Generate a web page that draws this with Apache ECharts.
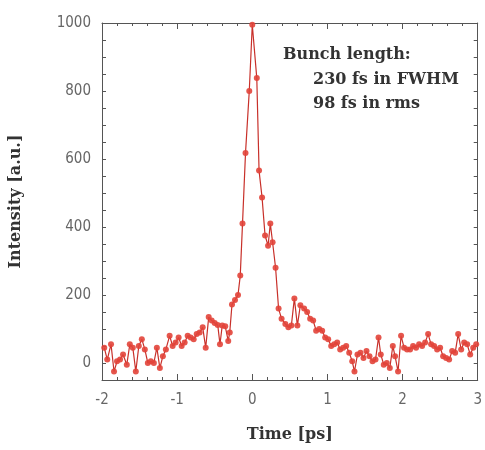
<!DOCTYPE html>
<html>
<head>
<meta charset="utf-8">
<script src="https://cdn.jsdelivr.net/npm/echarts@6/dist/echarts.min.js"></script>
<style>html,body{margin:0;padding:0;background:#fff;}#c{width:485px;height:450px;}</style>
</head>
<body>
<div id="c"></div>
<script>
const timePs = [-1.97,-1.93,-1.88,-1.84,-1.80,-1.76,-1.72,-1.67,-1.63,-1.59,-1.55,-1.51,-1.47,-1.43,-1.39,-1.35,-1.31,-1.27,-1.23,-1.19,-1.15,-1.10,-1.06,-1.02,-0.98,-0.94,-0.90,-0.86,-0.82,-0.78,-0.74,-0.70,-0.66,-0.62,-0.58,-0.54,-0.50,-0.46,-0.43,-0.40,-0.36,-0.32,-0.30,-0.27,-0.23,-0.19,-0.16,-0.13,-0.09,-0.04,0.00,0.06,0.09,0.13,0.17,0.21,0.24,0.27,0.31,0.35,0.39,0.44,0.48,0.52,0.56,0.60,0.64,0.69,0.73,0.77,0.81,0.85,0.89,0.93,0.97,1.01,1.05,1.09,1.13,1.17,1.21,1.25,1.29,1.33,1.36,1.40,1.44,1.48,1.52,1.56,1.60,1.64,1.68,1.71,1.75,1.79,1.83,1.87,1.90,1.94,1.98,2.02,2.06,2.10,2.14,2.18,2.22,2.26,2.30,2.34,2.38,2.42,2.46,2.50,2.54,2.58,2.62,2.66,2.70,2.74,2.78,2.82,2.86,2.90,2.94,2.98];
const intensity = [45,10,55,-25,5,10,25,-5,55,45,-25,50,70,40,0,5,0,45,-15,20,40,80,50,60,75,50,60,80,75,70,85,90,105,45,135,125,118,112,55,110,108,65,90,172,185,200,257,410,618,800,995,838,566,487,375,345,410,355,280,160,130,115,105,110,190,110,170,160,150,130,125,95,100,95,75,70,50,55,60,40,45,50,30,5,-25,25,30,15,35,20,5,10,75,25,-5,0,-15,50,20,-25,80,45,40,40,50,45,55,50,60,85,55,50,40,45,20,15,10,35,30,85,40,60,55,25,45,55];
const xTicks = [-2,-1,0,1,2,3];
const yTickLabels = [0,200,400,600,800,1000];
const annotation = ['Bunch length:','230 fs in FWHM','98 fs in rms'];

const chart = echarts.init(document.getElementById('c'));
const axisCol = '#555';
const labelFont = {color:'#666', fontSize:15, fontFamily:'DejaVu Sans Condensed, Liberation Sans Narrow, Liberation Sans, sans-serif'};
const nameFont = {color:'#333', fontSize:16, fontWeight:'bold', fontFamily:'DejaVu Serif, serif'};
const annFont = 'bold 16px "DejaVu Serif", serif';
const pts = timePs.map((t,i)=>[t,intensity[i]]);

chart.setOption({
  animation:false,
  backgroundColor:'#fff',
  grid:{left:102,right:5,top:23,bottom:70},
  xAxis:[{
    type:'value', min:xTicks[0], max:xTicks[xTicks.length-1], interval:1,
    name:'Time [ps]', nameLocation:'middle', nameGap:47, nameTextStyle:nameFont,
    axisLine:{onZero:false,lineStyle:{color:axisCol,width:1}},
    axisTick:{inside:true,length:6,lineStyle:{color:axisCol}},
    minorTick:{show:true,splitNumber:5,length:3,lineStyle:{color:axisCol}},
    axisLabel:Object.assign({margin:13},labelFont),
    splitLine:{show:false}
  },{
    type:'value', position:'top', min:xTicks[0], max:xTicks[xTicks.length-1], interval:1,
    axisLine:{onZero:false,lineStyle:{color:axisCol,width:1}},
    axisTick:{inside:true,length:6,lineStyle:{color:axisCol}},
    minorTick:{show:true,splitNumber:5,length:3,lineStyle:{color:axisCol}},
    axisLabel:{show:false}, splitLine:{show:false}
  }],
  yAxis:[{
    type:'value', min:-50, max:1000, interval:50,
    name:'Intensity [a.u.]', nameLocation:'middle', nameGap:78, nameRotate:90, nameTextStyle:nameFont,
    axisLine:{show:true,onZero:false,lineStyle:{color:axisCol,width:1}},
    axisTick:{show:true,inside:true,length:4,lineStyle:{color:axisCol}},
    axisLabel:Object.assign({margin:11, formatter:v=>yTickLabels.indexOf(v)>=0?String(v):''},labelFont),
    splitLine:{show:false}
  },{
    type:'value', position:'right', min:-50, max:1000, interval:50,
    axisLine:{show:true,onZero:false,lineStyle:{color:axisCol,width:1}},
    axisTick:{show:true,inside:true,length:4,lineStyle:{color:axisCol}},
    axisLabel:{show:false}, splitLine:{show:false}
  }],
  series:[{
    type:'line', data:pts, xAxisIndex:0, yAxisIndex:0,
    symbol:'circle', symbolSize:6,
    lineStyle:{color:'#c8302a',width:1.2},
    itemStyle:{color:'#e2443a',opacity:0.9},
    z:3
  }],
  graphic:[
    {type:'text', left:283, top:47, style:{text:annotation[0], font:annFont, fill:'#333'}},
    {type:'text', left:313, top:72, style:{text:annotation[1], font:annFont, fill:'#333'}},
    {type:'text', left:313, top:96, style:{text:annotation[2], font:annFont, fill:'#333'}}
  ]
});
</script>
</body>
</html>
